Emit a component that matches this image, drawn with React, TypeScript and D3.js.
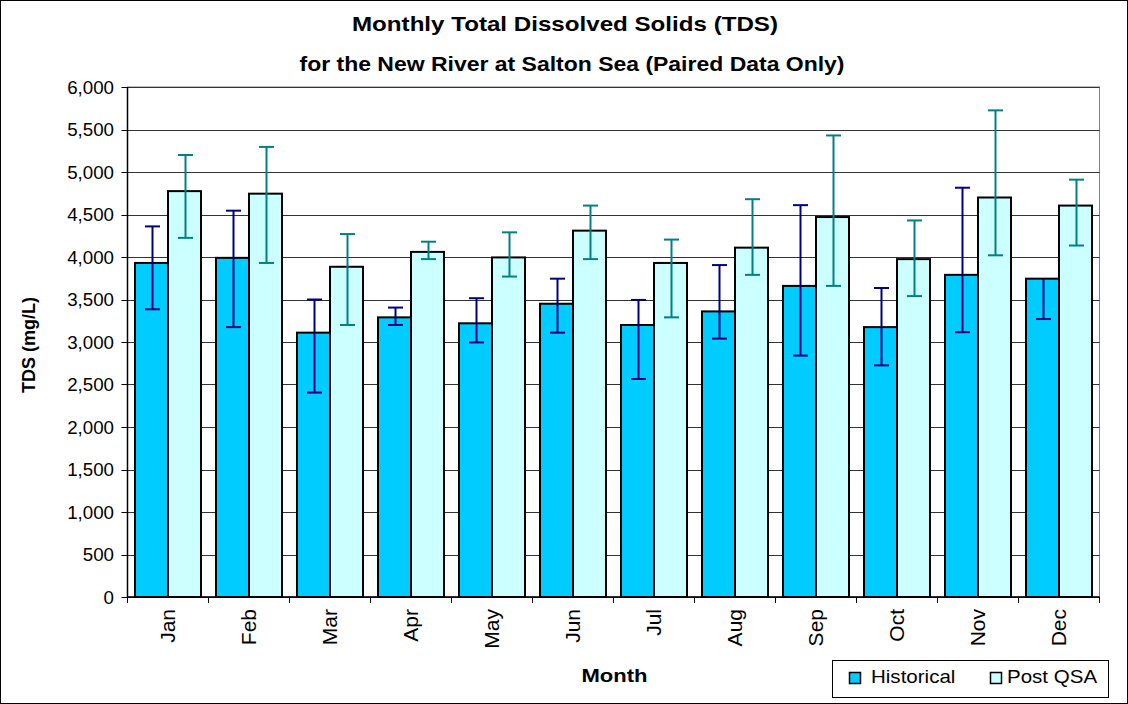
import React from "react";
import * as d3 from "d3";

const months = ["Jan", "Feb", "Mar", "Apr", "May", "Jun", "Jul", "Aug", "Sep", "Oct", "Nov", "Dec"];
const historical = [3930, 3990, 3110, 3290, 3220, 3450, 3200, 3360, 3660, 3175, 3790, 3745];
const historicalHi = [4360, 4545, 3500, 3405, 3515, 3745, 3495, 3905, 4610, 3635, 4815, 3745];
const historicalLo = [3385, 3175, 2405, 3200, 2995, 3110, 2565, 3040, 2840, 2725, 3115, 3270];
const postQSA = [4775, 4745, 3885, 4060, 3995, 4310, 3930, 4110, 4470, 3975, 4700, 4605];
const postQSAHi = [5200, 5295, 4270, 4180, 4290, 4605, 4205, 4680, 5430, 4430, 5725, 4910];
const postQSALo = [4225, 3930, 3200, 3975, 3770, 3975, 3290, 3790, 3660, 3540, 4020, 4135];
const yTicks = [0, 500, 1000, 1500, 2000, 2500, 3000, 3500, 4000, 4500, 5000, 5500, 6000];

const W = 1128, H = 704;
const L = 127.5, R = 1099.5, T = 87, B = 597;
const FONT = "'Liberation Sans', Arial, sans-serif";
const SX = 1.14;

export default function App() {
  const x = d3.scaleBand<string>().domain(months).range([L, R]).paddingInner(0).paddingOuter(0);
  const y = d3.scaleLinear().domain([0, 6000]).range([B, T]);
  const bw = x.bandwidth();
  const barW = 33;
  const fmt = d3.format(",");

  const series = [
    { name: "Historical", vals: historical, hi: historicalHi, lo: historicalLo, fill: "#00CCFF", err: "#000080", off: bw / 2 - barW },
    { name: "Post QSA", vals: postQSA, hi: postQSAHi, lo: postQSALo, fill: "#CCFFFF", err: "#008080", off: bw / 2 },
  ];

  return (
    <svg width={W} height={H} style={{ position: "absolute", left: 0, top: 0, background: "#fff" }} fontFamily={FONT}>
      <rect x={0.5} y={0.5} width={W - 1} height={H - 1} fill="#fff" stroke="#000" strokeWidth={1} />
      <text x={565} y={31} textAnchor="middle" fontSize={21} fontWeight="bold" textLength={426} lengthAdjust="spacingAndGlyphs">Monthly Total Dissolved Solids (TDS)</text>
      <text x={572} y={71} textAnchor="middle" fontSize={21} fontWeight="bold" textLength={545} lengthAdjust="spacingAndGlyphs">for the New River at Salton Sea (Paired Data Only)</text>

      <rect x={L} y={T} width={R - L} height={B - T} fill="#fff" stroke="#808080" strokeWidth={1} />
      {yTicks.map((t) => {
        const yy = Math.round(y(t)) + 0.5;
        return (
          <g key={t}>
            <line x1={L} x2={R} y1={yy} y2={yy} stroke="#333" strokeWidth={1} />
            <line x1={L - 6} x2={L} y1={yy} y2={yy} stroke="#000" />
            <g transform={`translate(${114},${y(t) + 6.5}) scale(1.04,1)`}>
              <text x={0} y={0} textAnchor="end" fontSize={18}>{fmt(t)}</text>
            </g>
          </g>
        );
      })}

      {series.map((s) =>
        months.map((m, i) => {
          const x0 = (x(m) as number) + s.off;
          return (
            <rect key={s.name + m} x={x0} y={y(s.vals[i])} width={barW} height={B - y(s.vals[i])} fill={s.fill} stroke="#000" strokeWidth={2} />
          );
        })
      )}

      {series.map((s) =>
        months.map((m, i) => {
          const cx = Math.round((x(m) as number) + s.off + barW / 2) + 0.5;
          const hasHi = s.hi[i] > s.vals[i];
          return (
            <g key={"e" + s.name + m} stroke={s.err} strokeWidth={2}>
              <line x1={cx} x2={cx} y1={y(s.hi[i])} y2={y(s.lo[i])} />
              {hasHi && <line x1={cx - 7.5} x2={cx + 7.5} y1={y(s.hi[i])} y2={y(s.hi[i])} />}
              <line x1={cx - 7.5} x2={cx + 7.5} y1={y(s.lo[i])} y2={y(s.lo[i])} />
            </g>
          );
        })
      )}

      <line x1={L} x2={L} y1={T} y2={B} stroke="#000" strokeWidth={1.5} />
      <line x1={L} x2={R} y1={B} y2={B} stroke="#000" strokeWidth={1.5} />
      {months.map((m) => (
        <line key={"t" + m} x1={(x(m) as number) + bw} x2={(x(m) as number) + bw} y1={B} y2={B + 6} stroke="#000" />
      ))}
      <line x1={L} x2={L} y1={B} y2={B + 6} stroke="#000" />
      {months.map((m) => {
        const cx = (x(m) as number) + bw / 2;
        return (
          <text key={"l" + m} transform={`translate(${cx + 7},${609}) rotate(-90)`} textAnchor="end" fontSize={21}>{m}</text>
        );
      })}

      <text transform={`translate(35,345) rotate(-90)`} textAnchor="middle" fontSize={18} fontWeight="bold">TDS (mg/L)</text>
      <g transform={`translate(614.5,682) scale(1.16,1)`}>
        <text x={0} y={0} textAnchor="middle" fontSize={19} fontWeight="bold">Month</text>
      </g>

      <rect x={832.5} y={660.5} width={276} height={37} fill="#fff" stroke="#000" strokeWidth={1} />
      <rect x={849.5} y={672.5} width={11} height={11} fill="#00CCFF" stroke="#000" strokeWidth={1.5} />
      <g transform={`translate(871,683) scale(${SX},1)`}>
        <text x={0} y={0} fontSize={18}>Historical</text>
      </g>
      <rect x={990.5} y={672.5} width={11} height={11} fill="#CCFFFF" stroke="#000" strokeWidth={1.5} />
      <g transform={`translate(1007,683) scale(${SX},1)`}>
        <text x={0} y={0} fontSize={18}>Post QSA</text>
      </g>
    </svg>
  );
}
